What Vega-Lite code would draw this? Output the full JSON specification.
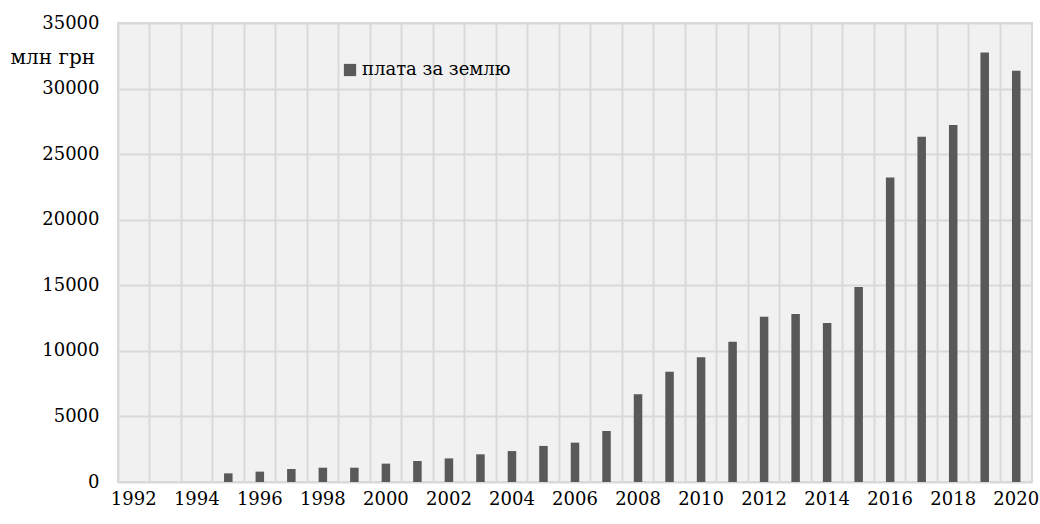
{
  "$schema": "https://vega.github.io/schema/vega-lite/v6.json",
  "autosize": {"type": "none"},
  "padding": {"left": 118, "top": 23, "right": 8, "bottom": 42},
  "width": 914,
  "height": 459,
  "background": "#ffffff",
  "config": {
    "font": "DejaVu Serif",
    "view": {"fill": "#f1f1f1", "stroke": "#d9d9d9", "strokeWidth": 2}
  },
  "data": {
    "values": [
      {"year": 1992, "value": 0},
      {"year": 1993, "value": 0},
      {"year": 1994, "value": 0},
      {"year": 1995, "value": 660},
      {"year": 1996, "value": 790},
      {"year": 1997, "value": 990},
      {"year": 1998, "value": 1090},
      {"year": 1999, "value": 1090},
      {"year": 2000, "value": 1400},
      {"year": 2001, "value": 1600},
      {"year": 2002, "value": 1800},
      {"year": 2003, "value": 2110},
      {"year": 2004, "value": 2360},
      {"year": 2005, "value": 2750},
      {"year": 2006, "value": 3000},
      {"year": 2007, "value": 3890},
      {"year": 2008, "value": 6690},
      {"year": 2009, "value": 8410},
      {"year": 2010, "value": 9510},
      {"year": 2011, "value": 10700},
      {"year": 2012, "value": 12610},
      {"year": 2013, "value": 12810},
      {"year": 2014, "value": 12130},
      {"year": 2015, "value": 14870},
      {"year": 2016, "value": 23210},
      {"year": 2017, "value": 26320},
      {"year": 2018, "value": 27230},
      {"year": 2019, "value": 32750},
      {"year": 2020, "value": 31350}
    ]
  },
  "mark": {"type": "bar", "width": {"band": 0.27}},
  "encoding": {
    "x": {
      "field": "year",
      "type": "ordinal",
      "scale": {"paddingInner": 0, "paddingOuter": 0},
      "axis": {
        "title": null,
        "bandPosition": 0,
        "labelAngle": 0,
        "labelAlign": "center",
        "labelExpr": "datum.value % 2 == 0 ? datum.label : ''",
        "labelFont": "DejaVu Serif",
        "labelFontSize": 18,
        "labelColor": "#000000",
        "labelPadding": 8,
        "ticks": false,
        "domain": false,
        "grid": true,
        "gridColor": "#d9d9d9",
        "gridWidth": 2
      }
    },
    "y": {
      "field": "value",
      "type": "quantitative",
      "scale": {"domain": [0, 35000], "nice": false},
      "axis": {
        "title": "млн грн",
        "titleAngle": 0,
        "titleAlign": "left",
        "titleBaseline": "middle",
        "titleX": -108,
        "titleY": 34,
        "titleFont": "DejaVu Serif",
        "titleFontSize": 20,
        "titleFontWeight": "normal",
        "titleColor": "#000000",
        "values": [0, 5000, 10000, 15000, 20000, 25000, 30000, 35000],
        "format": "d",
        "labelFont": "DejaVu Serif",
        "labelFontSize": 18,
        "labelColor": "#000000",
        "labelPadding": 19,
        "ticks": false,
        "domain": false,
        "grid": true,
        "gridColor": "#d9d9d9",
        "gridWidth": 2
      }
    },
    "color": {
      "datum": "плата за землю",
      "type": "nominal",
      "scale": {"range": ["#595959"]},
      "legend": {
        "title": null,
        "orient": "none",
        "legendX": 223,
        "legendY": 38,
        "symbolType": "square",
        "symbolSize": 150,
        "symbolStrokeWidth": 0,
        "labelFont": "DejaVu Serif",
        "labelFontSize": 18,
        "labelColor": "#000000",
        "labelOffset": 3
      }
    }
  }
}
